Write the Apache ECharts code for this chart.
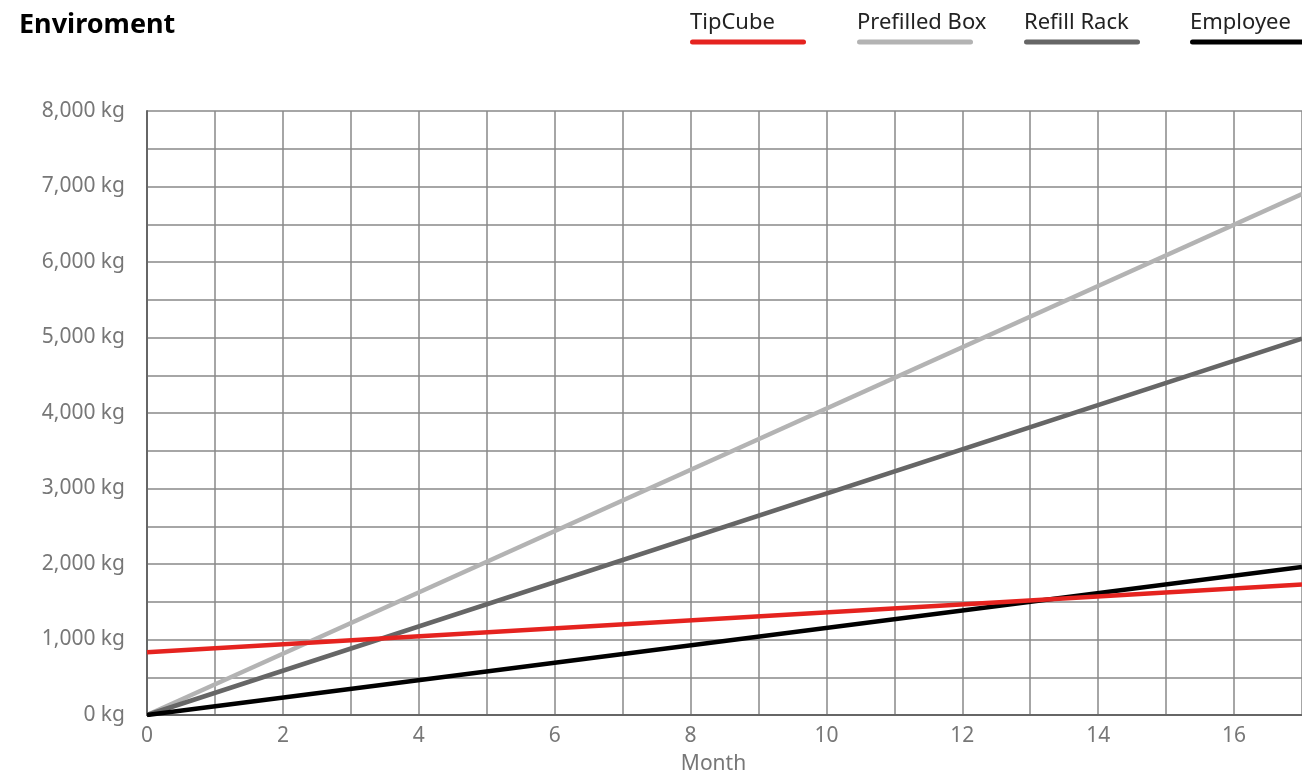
<!DOCTYPE html>
<html>
<head>
<meta charset="utf-8">
<script src="https://cdn.jsdelivr.net/npm/echarts@6/dist/echarts.min.js"></script>
<style>
html,body{margin:0;padding:0;background:#fff;}
#chart{width:1302px;height:775px;}
</style>
</head>
<body>
<div id="chart"></div>
<script>
const title = 'Enviroment';
const seriesNames = ['TipCube', 'Prefilled Box', 'Refill Rack', 'Employee'];
const seriesColors = ['#e5231f', '#b3b3b3', '#666666', '#000000'];
const tipCube = [[0, 830], [17, 1730]];
const prefilledBox = [[0, 0], [17, 6900]];
const refillRack = [[0, 0], [17, 4985]];
const employee = [[0, 0], [17, 1960]];
const xName = 'Month';
const yUnit = ' kg';

const seriesData = [tipCube, prefilledBox, refillRack, employee];
const legendLefts = [680, 847, 1014, 1180];
const font = 'Noto Sans';

const rich = {n: {fontFamily: font, fontSize: 22, color: '#222', lineHeight: 30}};
seriesColors.forEach((c, i) => {
  rich['l' + i] = {width: 116, height: 5, backgroundColor: c, borderRadius: 3, lineHeight: 8};
});

const legends = seriesNames.map((name, i) => ({
  data: [name],
  left: legendLefts[i],
  top: 7,
  itemWidth: 0,
  itemHeight: 0,
  icon: 'rect',
  selectedMode: false,
  formatter: n => '{n|' + n + '}\n{l' + i + '|}',
  textStyle: {rich: rich, padding: 0}
}));

const chart = echarts.init(document.getElementById('chart'), null, {renderer: 'canvas'});
chart.setOption({
  animation: false,
  backgroundColor: '#fff',
  title: {
    text: title, left: 14, top: 7,
    textStyle: {fontFamily: font, fontSize: 27, fontWeight: 'bold', color: '#000'}
  },
  legend: legends,
  grid: {left: 147, right: 0, top: 111, bottom: 60, containLabel: false, outerBoundsMode: 'none'},
  xAxis: {
    type: 'value', min: 0, max: 17, interval: 1,
    name: xName, nameLocation: 'middle', nameGap: 39,
    nameTextStyle: {fontFamily: font, fontSize: 21, color: '#777', padding: [0, 22, 0, 0]},
    axisLine: {show: true, lineStyle: {color: '#666', width: 2}},
    axisTick: {show: false},
    axisLabel: {
      fontFamily: font, fontSize: 21, color: '#777', margin: 11,
      formatter: v => (v % 2 === 0 ? String(v) : '')
    },
    splitLine: {show: true, lineStyle: {color: '#888', width: 1.5}}
  },
  yAxis: {
    type: 'value', min: 0, max: 8000, interval: 500,
    axisLine: {show: true, lineStyle: {color: '#666', width: 2}},
    axisTick: {show: false},
    axisLabel: {
      fontFamily: font, fontSize: 21, color: '#777', margin: 22,
      formatter: v => (v % 1000 === 0 ? v.toLocaleString('en-US') + yUnit : '')
    },
    splitLine: {show: true, lineStyle: {color: '#888', width: 1.5}}
  },
  series: seriesNames.map((name, i) => ({
    name: name,
    type: 'line',
    data: seriesData[i],
    showSymbol: false,
    symbol: 'none',
    z: [10, 4, 6, 8][i],
    lineStyle: {color: seriesColors[i], width: 4.5},
    itemStyle: {color: seriesColors[i]}
  }))
});
</script>
</body>
</html>
